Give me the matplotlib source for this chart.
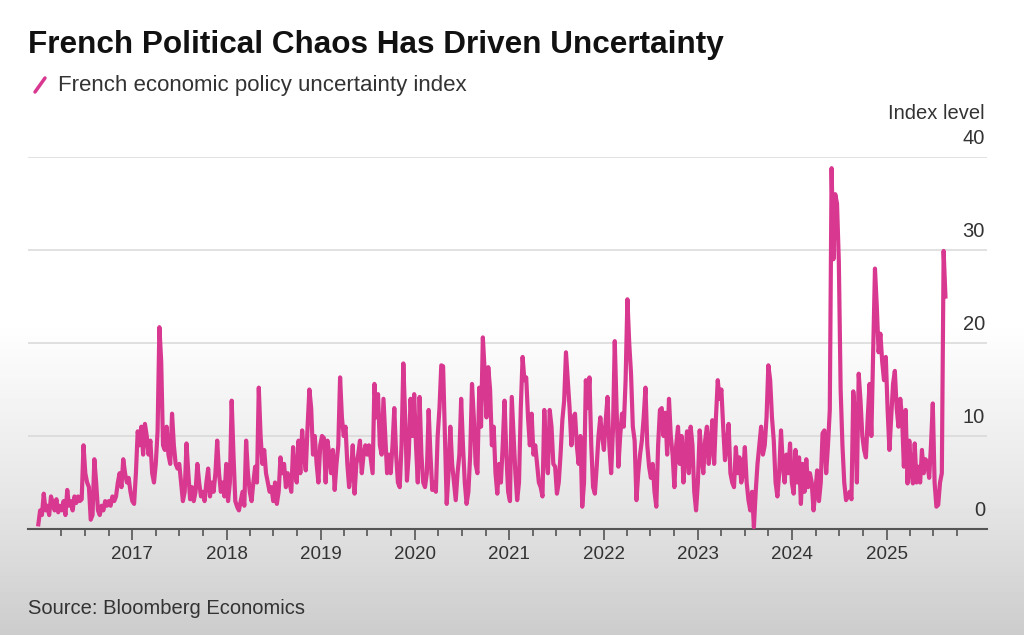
import numpy as np
import pandas as pd
import matplotlib
matplotlib.use('Agg')
import matplotlib.pyplot as plt
import matplotlib.dates as mdates
import matplotlib.transforms as mtransforms
from matplotlib.lines import Line2D

# weekly index values, one list per year (quarters of 13 weeks)
y2016 = [0.5, 2, 1.5, 3.8, 2, 2.5, 1.5, 3.5, 2.8, 2, 3.2, 1.8, 2.5,
         2, 3, 1.5, 4.2, 2.5, 3, 2, 3.5, 2.8, 3.5, 3, 3.2, 9,
         6, 5, 4.5, 1, 1.5, 7.5, 5, 2, 1.5, 2.5, 2, 3, 2.5,
         3, 2.5, 3.5, 3, 3.5, 5, 6, 4.5, 7.5, 6, 5, 5.5, 4]
y2017 = [3, 2.7, 6, 10.5, 9, 11, 8, 11.3, 10, 8, 9.5, 6, 5,
         7, 10.5, 21.7, 18, 9, 8.5, 11, 8, 7, 12.4, 9, 7, 6.5,
         7, 5, 3, 4, 9.2, 6, 3.2, 4.5, 3, 4, 7, 5, 3.5,
         4, 3, 5, 6.5, 3.5, 5, 4, 6, 9.5, 6, 4, 5, 3.5]
y2018 = [7, 3, 5, 13.8, 8, 3, 2.4, 2, 3, 4, 2.5, 9.5, 6,
         4, 3, 5, 6.7, 5, 15.2, 10, 7, 8.5, 6, 5, 4, 4.5,
         3, 5, 2.7, 4, 7.7, 6, 7, 4.5, 6, 5, 4, 8.8, 6,
         5, 9.5, 6, 10.6, 8, 6.3, 11, 15, 13, 8, 10, 7, 5]
y2019 = [9, 10, 9.8, 5, 9.5, 8, 6, 8.5, 4.2, 7, 9, 16.3, 12,
         10, 11, 7, 4.5, 6, 9, 3.8, 7, 8, 9.5, 6, 8, 9,
         8, 9, 7.5, 6, 15.6, 12, 14.5, 9, 8, 14, 10, 6, 8,
         6, 9, 13, 8, 5, 4.5, 9, 17.8, 12, 5.2, 8, 14, 10]
y2020 = [14.5, 9, 5, 14.2, 8, 5, 4.5, 6, 12.8, 8, 4.2, 5, 4,
         10, 13, 17.6, 17.5, 10, 2.7, 6, 11, 7, 5, 3.1, 6, 8,
         14, 9, 5, 2.7, 4, 8, 15.6, 12, 7, 6, 15.2, 11, 20.6,
         17, 12, 17.4, 15, 9, 11, 6, 3.8, 7, 5, 9, 13.8, 8]
y2021 = [4, 3, 14.2, 10, 6, 3.1, 5, 13, 18.5, 16, 16.3, 12, 9,
         12.4, 8, 9, 7, 5, 4.5, 3.5, 12.8, 8, 6, 12.8, 11, 7,
         6.7, 3.8, 5, 8, 11.7, 13.8, 19, 16, 13, 9, 12, 12.4, 9,
         7, 10, 2.4, 5, 16, 13, 16.3, 9, 4.5, 3.8, 6.7, 10, 12]
y2022 = [10, 8.5, 11.7, 14.2, 9, 6, 10.6, 20.2, 13, 6.7, 10, 12.4, 11,
         16, 24.7, 20, 16.7, 11, 9.5, 3.1, 6, 8, 9.5, 12, 15.2, 9,
         6.7, 5.5, 7, 4, 2.4, 9, 12.8, 13, 10, 12.5, 8, 14, 10,
         8, 4.5, 9, 11, 7, 10, 5, 8, 10.5, 6, 11, 9, 4]
y2023 = [2, 5, 10.6, 8, 6, 9.5, 11, 7, 9, 11.7, 7, 12, 16,
         14, 15, 11, 7.4, 9, 11.3, 6, 5, 4.5, 8.8, 6, 7.7, 5,
         6, 8.8, 5, 3.1, 2, 4, 0.2, 4, 7, 9, 11, 8, 9,
         12, 17.6, 16, 12, 9.5, 5, 3.5, 6, 10.6, 7, 5, 8, 6]
y2024 = [9.2, 5, 3.8, 8.5, 5, 7.7, 2.7, 7, 4, 7.5, 4.5, 6, 5,
         2, 4, 6.3, 3, 5, 10.3, 10.6, 6, 9, 12.8, 38.8, 29, 36,
         35, 28.8, 15, 9, 5, 3.1, 3.5, 4, 3.2, 14.8, 12, 5, 16.7,
         13.8, 10, 8.5, 7.7, 12, 15.6, 10, 19, 28, 24, 19, 21, 18]
y2025 = [16, 18.5, 12.8, 8.5, 12, 15.6, 17, 13, 11, 14, 12, 6.7, 12.8,
         4.9, 9.5, 6.3, 4.9, 9.2, 5, 6.7, 5, 8.5, 6, 7.5, 7, 5.5,
         9, 13.5, 5, 2.4, 2.6, 5, 6, 29.9, 25]

values = y2016 + y2017 + y2018 + y2019 + y2020 + y2021 + y2022 + y2023 + y2024 + y2025
dates = pd.date_range('2016-01-03', periods=len(values), freq='W-SUN')

y_ticks = [0, 10, 20, 30, 40]
x_years = [2017, 2018, 2019, 2020, 2021, 2022, 2023, 2024, 2025]

title = 'French Political Chaos Has Driven Uncertainty'
series_name = 'French economic policy uncertainty index'
unit_label = 'Index level'
source = 'Source: Bloomberg Economics'

pink = '#d8388f'
plt.rcParams['font.family'] = ['Liberation Sans', 'DejaVu Sans']

W, H = 1024, 635
fig = plt.figure(figsize=(W / 100, H / 100), dpi=100)

# background: white on top, fading to light grey at the bottom
bg = fig.add_axes([0, 0, 1, 1], zorder=-10)
rows = np.arange(H)
shade = np.interp(rows, [0, 320, 500, H], [1.0, 1.0, 0.90, 0.80])
bg.imshow(np.repeat(shade[:, None], 4, axis=1), cmap='gray', vmin=0, vmax=1,
          aspect='auto', extent=[0, 1, 0, 1], origin='upper')
bg.axis('off')

L, R, B, T = 28, 987, 529, 157
ax = fig.add_axes([L / W, 1 - B / H, (R - L) / W, (B - T) / H])
ax.set_facecolor('none')

ax.plot(dates, values, color=pink, lw=3.0, solid_joinstyle='round', zorder=3)

ax.set_ylim(0, 40)
ax.set_xlim(pd.Timestamp('2015-11-24'), pd.Timestamp('2026-01-25'))

for v in y_ticks[1:]:
    ax.axhline(v, color='#d8d8d8', lw=1.1, zorder=1)
ax.set_yticks([])

lbl_tr = mtransforms.blended_transform_factory(ax.transAxes, ax.transData)
off = mtransforms.ScaledTranslation(-2 / 100, 9 / 100, fig.dpi_scale_trans)
for v in y_ticks:
    ax.text(1.0, v, str(v), transform=lbl_tr + off, ha='right', va='bottom',
            fontsize=14.5, color='#333333')
ax.text(1.0, 1.0, unit_label,
        transform=ax.transAxes + mtransforms.ScaledTranslation(-2 / 100, 34 / 100, fig.dpi_scale_trans),
        ha='right', va='bottom', fontsize=14.5, color='#333333')

for s in ['top', 'right', 'left']:
    ax.spines[s].set_visible(False)
ax.spines['bottom'].set_color('#555555')
ax.spines['bottom'].set_linewidth(1.5)

ax.set_xticks([pd.Timestamp(f'{y}-01-01') for y in x_years])
ax.set_xticklabels([str(y) for y in x_years], fontsize=13.5, color='#333333')
ax.xaxis.set_minor_locator(mdates.MonthLocator(bymonth=[4, 7, 10]))
ax.tick_params(axis='x', which='major', length=8, width=1.2, color='#555555', pad=4)
ax.tick_params(axis='x', which='minor', length=5, width=1.2, color='#555555')

fig.text(28 / W, 1 - 45 / H, title, fontsize=22.7, fontweight='bold', va='center', ha='left',
         family=['Liberation Sans Narrow', 'Liberation Sans', 'DejaVu Sans'], color='#111111')
fig.add_artist(Line2D([35 / W, 45 / W], [1 - 92 / H, 1 - 78 / H], color=pink, lw=2.5,
                      solid_capstyle='round'))
fig.text(58 / W, 1 - 85 / H, series_name, fontsize=16, va='center', ha='left', color='#333333')
fig.text(28 / W, 1 - 608 / H, source, fontsize=14.5, va='center', ha='left', color='#333333')

fig.savefig('out.png', dpi=100)
